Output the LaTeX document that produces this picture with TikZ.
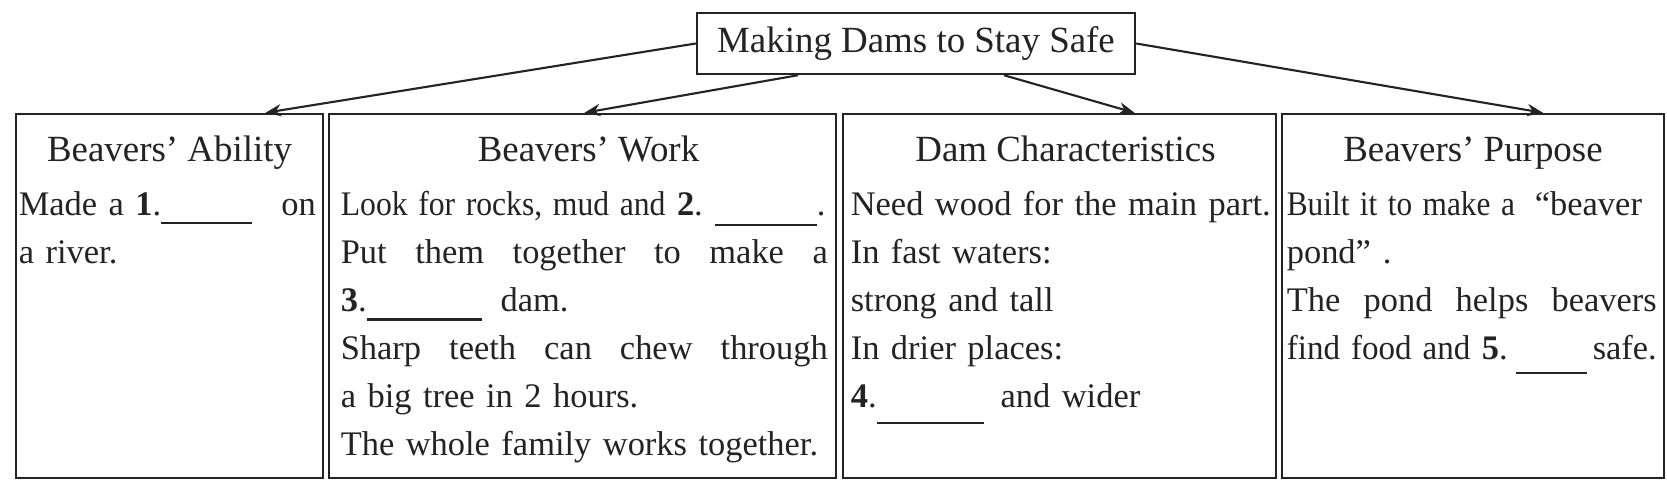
\documentclass[tikz,border=0pt]{standalone}
\usepackage{fontspec}
\setmainfont{Liberation Serif}
\usepackage{graphicx}
\usetikzlibrary{arrows.meta,calc,positioning}
\definecolor{ink}{RGB}{35,35,35}
\newcommand{\fillin}[2]{\rule[-#2]{#1}{0.6pt}}
\newcommand{\spreadline}[1]{\makebox[\linewidth][s]{\spaceskip=0.25em plus 1fil #1}}

\begin{document}
\begin{tikzpicture}[color=ink, line width=0.6pt,
  panel/.style={draw, line width=0.7pt, minimum height=3.64cm, inner sep=0pt},
  head/.style={anchor=base, inner sep=0pt, font=\fontsize{10.5}{12}\selectfont},
  body/.style={anchor=base west, inner sep=0pt, align=left, text width=#1, font=\fontsize{9.8}{13.66}\selectfont},
  link/.style={-{Stealth[length=4.5pt,width=3.5pt]}}]
\useasboundingbox (0,0) rectangle (16.67,4.85);
\node[panel, minimum width=4.38cm, minimum height=0.61cm, font=\fontsize{10.5}{12}\selectfont] (title) at (9.16,4.415) {Making Dams to Stay Safe};
\node[panel, minimum width=3.07cm] (abil) at (1.695,1.89) {};
\node[panel, minimum width=5.07cm] (work) at (5.825,1.89) {};
\node[panel, minimum width=4.33cm] (dam)  at (10.595,1.89) {};
\node[panel, minimum width=3.82cm] (purp) at (14.73,1.89) {};
\node[head] (abilH) at ([yshift=-0.49cm]abil.north) {Beavers' Ability};
\node[head] (workH) at ([xshift=0.06cm,yshift=-0.49cm]work.north) {Beavers' Work};
\node[head] (damH)  at ([xshift=0.06cm,yshift=-0.49cm]dam.north) {Dam Characteristics};
\node[head] (purpH) at ([yshift=-0.49cm]purp.north) {Beavers' Purpose};
\node[body=2.97cm] (abilB) at ([xshift=0.03cm,yshift=-1.03cm]abil.north west)
  {\makebox[\linewidth][l]{Made a \textbf{1}.\fillin{0.91cm}{2.3pt}\hfill on}\\
   a river.};
\node[body=4.87cm] (workB) at ([xshift=0.12cm,yshift=-1.03cm]work.north west)
  {\makebox[\linewidth][l]{\scalebox{0.92}[1]{Look for rocks, mud and} \textbf{2}.\hspace{0.12cm}\fillin{1.02cm}{3pt}.}\\
   \spreadline{Put them together to make a}\\
   \textbf{3}.\fillin{1.15cm}{2.5pt}\hspace{0.19cm}dam.\\
   \spreadline{Sharp teeth can chew through}\\
   a big tree in 2 hours.\\
   \makebox[\linewidth][l]{The whole family works together.}};
\node[body=4.3cm] (damB) at ([xshift=0.08cm,yshift=-1.03cm]dam.north west)
  {\makebox[\linewidth][l]{Need wood for the main part.}\\
   In fast waters:\\
   strong and tall\\
   In drier places:\\
   \textbf{4}.\fillin{1.07cm}{4.5pt}\hspace{0.17cm}and wider};
\node[body=3.7cm] (purpB) at ([xshift=0.05cm,yshift=-1.03cm]purp.north west)
  {\makebox[\linewidth][l]{\scalebox{0.91}[1]{Built it to make a}\hspace{0.2cm}``beaver}\\
   pond''\hspace{0.12cm}.\\
   \spreadline{The pond helps beavers}\\
   \makebox[\linewidth][l]{\scalebox{0.96}[1]{find food and} \textbf{5}.\hspace{0.08cm}\fillin{0.71cm}{4pt}\hfill safe.}};
% title to the four panels
\draw[link] (title.west) -- ([xshift=0.96cm]abil.north);
\draw[link] ([xshift=-1.18cm]title.south) -- ([xshift=0.02cm]work.north);
\draw[link] ([xshift=0.88cm]title.south) -- ([xshift=0.75cm]dam.north);
\draw[link] (title.east) -- ([xshift=0.7cm]purp.north);
\end{tikzpicture}
\end{document}
